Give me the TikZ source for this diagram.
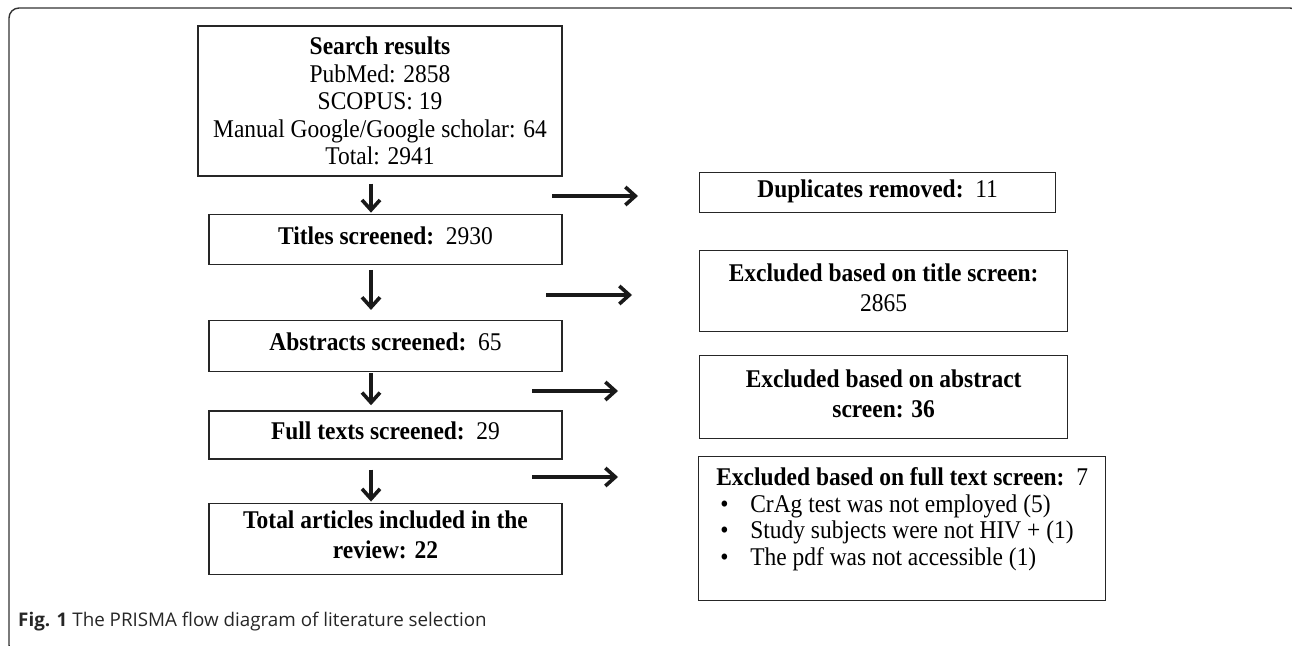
\documentclass[tikz,border=0pt]{standalone}
\usepackage{fontspec}
\setmainfont{Liberation Serif}[FakeStretch=0.92]
\newfontfamily\capfont{Open Sans}
\usepackage{tikz}
\usetikzlibrary{positioning,arrows.meta}

\newcommand{\bul}{\makebox[34pt][l]{\hspace{4pt}\textbullet}}

\begin{document}
\begin{tikzpicture}[
    x=1pt, y=-1pt,
    box/.style={draw=black!85, line width=1.3pt, rectangle, minimum width=353pt, align=center, inner sep=0pt, text depth=8pt, font=\fontsize{25.5}{30}\selectfont},
    side/.style={box, anchor=north west, minimum width=368pt},
    arr/.style={-{Straight Barb[length=10pt,width=18pt]}, line width=3.6pt, black!90}
]
    \useasboundingbox (0,0) rectangle (1292,645);
    \draw[black!80, line width=1.4pt, rounded corners=10pt] (9,8) rectangle (1300,655);

    % main column
    \node[box, minimum width=364pt, minimum height=150pt, text depth=0pt, font=\fontsize{25.5}{27.5}\selectfont] (search) at (380,101)
        {\textbf{Search results}\\PubMed: 2858\\SCOPUS: 19\\Manual Google/Google scholar: 64\\Total: 2941};
    \node[box, minimum height=50pt, below=37pt of search.south east, anchor=north east] (titles) {\textbf{Titles screened:}\ \ 2930};
    \node[box, minimum height=51pt, below=55pt of titles.south east, anchor=north east] (abstracts) {\textbf{Abstracts screened:}\ \ 65};
    \node[box, minimum height=48pt, below=38pt of abstracts.south east, anchor=north east] (fulltexts) {\textbf{Full texts screened:}\ \ 29};
    \node[box, minimum height=71pt, below=43pt of fulltexts.south east, anchor=north east] (included) {\textbf{Total articles included in the}\\\textbf{review: 22}};

    % exclusions
    \node[side, minimum width=356pt, minimum height=40pt] (dups) at (699,172) {\textbf{Duplicates removed:}\ \ 11};
    \node[side, minimum height=81pt] (extitle) at (699,250) {\textbf{Excluded based on title screen:}\\2865};
    \node[side, minimum height=83pt] (exabstract) at (699,355) {\textbf{Excluded based on abstract}\\\textbf{screen: 36}};
    \node[side, minimum width=407pt, minimum height=144pt, align=left, text depth=24pt, font=\fontsize{25.5}{26.5}\selectfont] (exfull) at (698,456)
        {\textbf{Excluded based on full text screen:}\ \ 7\\\bul CrAg test was not employed (5)\\\bul Study subjects were not HIV + (1)\\\bul The pdf was not accessible (1)};

    \node[anchor=base west, inner sep=0pt, text=black!85, font=\capfont\fontsize{18.8}{20}\selectfont] (caption) at (18,626)
        {\textbf{Fig. 1} The PRISMA flow diagram of literature selection};

    % arrows
    \coordinate (spine) at (371,0);
    \draw[arr, shorten <=7pt, shorten >=1pt] (search.south -| spine) -- (titles.north -| spine);
    \draw[arr, shorten <=5pt, shorten >=10pt] (titles.south -| spine) -- (abstracts.north -| spine);
    \draw[arr, shorten <=1pt, shorten >=5pt] (abstracts.south -| spine) -- (fulltexts.north -| spine);
    \draw[arr, shorten <=10pt, shorten >=1pt] (fulltexts.south -| spine) -- (included.north -| spine);

    \coordinate (h1a) at (552,196); \coordinate (h1b) at (638,196);
    \coordinate (h2a) at (546,295); \coordinate (h2b) at (632,295);
    \coordinate (h3a) at (532,391); \coordinate (h3b) at (618,391);
    \coordinate (h4a) at (532,477); \coordinate (h4b) at (618,477);
    \draw[arr] (h1a) -- (h1b);
    \draw[arr] (h2a) -- (h2b);
    \draw[arr] (h3a) -- (h3b);
    \draw[arr] (h4a) -- (h4b);
\end{tikzpicture}
\end{document}
